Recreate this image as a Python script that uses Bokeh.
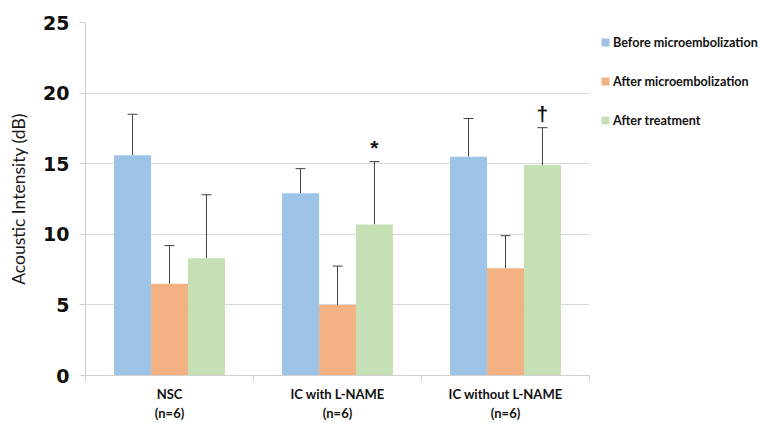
from bokeh.plotting import figure
from bokeh.models import (ColumnDataSource, FixedTicker, Whisker, TeeHead, Legend,
                          LegendItem, Range1d)
from bokeh.core.properties import value
from bokeh.embed import file_html
from bokeh.resources import INLINE

groups = ["NSC\n(n=6)", "IC with L-NAME\n(n=6)", "IC without L-NAME\n(n=6)"]
series = ["Before microembolization", "After microembolization", "After treatment"]
before = [15.6, 12.9, 15.5]
before_err = [2.9, 1.75, 2.7]
after = [6.5, 5.0, 7.6]
after_err = [2.7, 2.75, 2.3]
treat = [8.3, 10.7, 14.9]
treat_err = [4.5, 4.45, 2.65]
colors = ["#9DC3E6", "#F4B183", "#C5E0B4"]
marks = ["", "*", "\u2020"]
y_ticks = [0, 5, 10, 15, 20, 25]

FONT = "Lato"
bar_w = 0.22
offsets = [-bar_w, 0.0, bar_w]

p = figure(frame_width=504, frame_height=353, output_backend="svg", toolbar_location=None,
           x_range=Range1d(0, 3), y_range=Range1d(0, 25),
           min_border_left=85, min_border_right=169, min_border_top=22,
           min_border_bottom=10)
p.outline_line_color = None
p.background_fill_color = "white"
p.border_fill_color = "white"

renderers = []
for k, (vals, errs) in enumerate([(before, before_err), (after, after_err), (treat, treat_err)]):
    xs = [i + 0.5 + offsets[k] for i in range(len(groups))]
    src = ColumnDataSource(dict(x=xs, top=vals, upper=[v + e for v, e in zip(vals, errs)]))
    r = p.vbar(x="x", top="top", width=bar_w, source=src, fill_color=colors[k],
               line_color=None)
    renderers.append(r)
    w = Whisker(base="x", lower="top", upper="upper", source=src, dimension="height",
                line_color="#404040", line_width=1,
                upper_head=TeeHead(size=10, line_color="#404040", line_width=1),
                lower_head=None)
    p.add_layout(w)

# significance marks above the "After treatment" error bars
mx = [i + 0.5 + offsets[2] for i in range(len(groups))]
my = [v + e + 1.0 for v, e in zip(treat, treat_err)]
p.text(x=mx, y=my, text=marks, text_font=value("Liberation Sans"), text_font_style="bold",
       text_font_size="21px", text_align="center", text_baseline="alphabetic",
       text_color="#111111")

# y axis
p.yaxis.ticker = FixedTicker(ticks=y_ticks)
p.yaxis.axis_label = "Acoustic Intensity (dB)"
p.yaxis.axis_label_text_font = FONT
p.yaxis.axis_label_text_font_style = "normal"
p.yaxis.axis_label_text_font_size = "17.5px"
p.yaxis.axis_label_text_color = "#1a1a1a"
p.yaxis.axis_label_standoff = 11
p.yaxis.major_label_text_font = "DejaVu Sans"
p.yaxis.major_label_text_font_style = "bold"
p.yaxis.major_label_text_font_size = "19px"
p.yaxis.major_label_text_color = "#111111"
p.yaxis.major_label_standoff = 10
p.yaxis.axis_line_color = "#d0d0d0"
p.yaxis.major_tick_line_color = "#d0d0d0"
p.yaxis.major_tick_out = 6
p.yaxis.major_tick_in = 0
p.yaxis.minor_tick_line_color = None

# x axis: labels at group centers, ticks at group boundaries
p.xaxis.ticker = FixedTicker(ticks=[i + 0.5 for i in range(len(groups))],
                             minor_ticks=list(range(len(groups) + 1)))
p.xaxis.major_label_overrides = {i + 0.5: g for i, g in enumerate(groups)}
p.xaxis.major_label_text_font = FONT
p.xaxis.major_label_text_font_style = "bold"
p.xaxis.major_label_text_font_size = "13px"
p.xaxis.major_label_text_color = "#111111"
p.xaxis.major_label_standoff = 4
p.xaxis.major_tick_line_color = None
p.xaxis.minor_tick_line_color = "#d0d0d0"
p.xaxis.minor_tick_out = 6
p.xaxis.minor_tick_in = 0
p.xaxis.axis_line_color = "#d0d0d0"

p.xgrid.grid_line_color = None
p.ygrid.grid_line_color = "#d9d9d9"
p.ygrid.ticker = FixedTicker(ticks=y_ticks)

legend = Legend(items=[LegendItem(label=s, renderers=[r]) for s, r in zip(series, renderers)],
                location=(11, 247), orientation="vertical")
legend.label_text_font = FONT
legend.label_text_font_style = "bold"
legend.label_text_font_size = "12.6px"
legend.label_text_color = "#111111"
legend.glyph_width = 10
legend.glyph_height = 10
legend.label_height = 16
legend.label_standoff = 3
legend.spacing = 23
legend.padding = 0
legend.margin = 0
legend.border_line_color = None
legend.background_fill_alpha = 0
p.add_layout(legend, "right")

open("out.html", "w").write(file_html(p, INLINE))
